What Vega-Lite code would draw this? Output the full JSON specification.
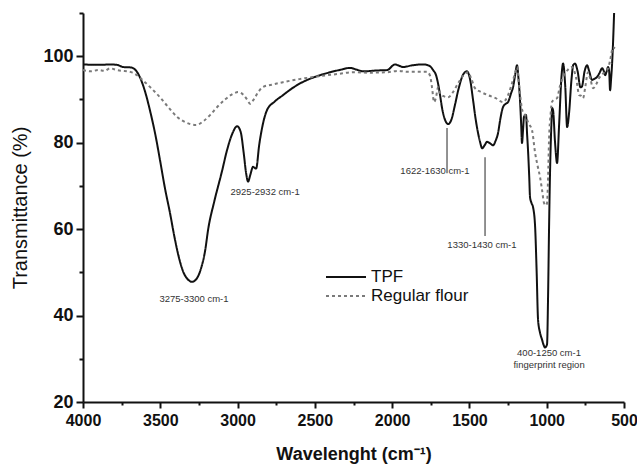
{
  "$schema": "https://vega.github.io/schema/vega-lite/v6.json",
  "width": 541,
  "height": 389,
  "autosize": "none",
  "padding": {"left": 83, "top": 13, "right": 13, "bottom": 63},
  "background": "white",
  "config": {
    "view": {"stroke": null},
    "font": "Liberation Sans",
    "axis": {
      "grid": false,
      "domainColor": "#111111",
      "domainWidth": 2,
      "tickColor": "#111111",
      "tickWidth": 2,
      "labelColor": "#111111",
      "labelFont": "Liberation Sans",
      "labelFontWeight": "bold",
      "titleColor": "#111111",
      "titleFont": "Liberation Sans"
    }
  },
  "datasets": {
    "spectra": [
      {"wavenumber": 4000, "transmittance": 98.1, "sample": "TPF"},
      {"wavenumber": 3900, "transmittance": 98.0, "sample": "TPF"},
      {"wavenumber": 3820, "transmittance": 98.1, "sample": "TPF"},
      {"wavenumber": 3780, "transmittance": 98.0, "sample": "TPF"},
      {"wavenumber": 3740, "transmittance": 97.5, "sample": "TPF"},
      {"wavenumber": 3690, "transmittance": 97.4, "sample": "TPF"},
      {"wavenumber": 3660, "transmittance": 96.8, "sample": "TPF"},
      {"wavenumber": 3630, "transmittance": 95.0, "sample": "TPF"},
      {"wavenumber": 3600, "transmittance": 92.0, "sample": "TPF"},
      {"wavenumber": 3567, "transmittance": 87.5, "sample": "TPF"},
      {"wavenumber": 3530, "transmittance": 81.5, "sample": "TPF"},
      {"wavenumber": 3502, "transmittance": 76.0, "sample": "TPF"},
      {"wavenumber": 3470, "transmittance": 69.5, "sample": "TPF"},
      {"wavenumber": 3437, "transmittance": 63.7, "sample": "TPF"},
      {"wavenumber": 3410, "transmittance": 58.5, "sample": "TPF"},
      {"wavenumber": 3380, "transmittance": 53.5, "sample": "TPF"},
      {"wavenumber": 3350, "transmittance": 50.0, "sample": "TPF"},
      {"wavenumber": 3320, "transmittance": 48.3, "sample": "TPF"},
      {"wavenumber": 3295, "transmittance": 47.8, "sample": "TPF"},
      {"wavenumber": 3270, "transmittance": 48.3, "sample": "TPF"},
      {"wavenumber": 3240, "transmittance": 50.5, "sample": "TPF"},
      {"wavenumber": 3210, "transmittance": 55.0, "sample": "TPF"},
      {"wavenumber": 3190, "transmittance": 60.0, "sample": "TPF"},
      {"wavenumber": 3150, "transmittance": 66.5, "sample": "TPF"},
      {"wavenumber": 3100, "transmittance": 73.5, "sample": "TPF"},
      {"wavenumber": 3068, "transmittance": 78.3, "sample": "TPF"},
      {"wavenumber": 3035, "transmittance": 82.0, "sample": "TPF"},
      {"wavenumber": 3003, "transmittance": 83.8, "sample": "TPF"},
      {"wavenumber": 2980, "transmittance": 82.5, "sample": "TPF"},
      {"wavenumber": 2960, "transmittance": 77.5, "sample": "TPF"},
      {"wavenumber": 2945, "transmittance": 73.0, "sample": "TPF"},
      {"wavenumber": 2932, "transmittance": 71.0, "sample": "TPF"},
      {"wavenumber": 2918, "transmittance": 72.5, "sample": "TPF"},
      {"wavenumber": 2900, "transmittance": 74.4, "sample": "TPF"},
      {"wavenumber": 2880, "transmittance": 74.0, "sample": "TPF"},
      {"wavenumber": 2860, "transmittance": 79.5, "sample": "TPF"},
      {"wavenumber": 2835, "transmittance": 84.5, "sample": "TPF"},
      {"wavenumber": 2810, "transmittance": 87.5, "sample": "TPF"},
      {"wavenumber": 2760, "transmittance": 89.5, "sample": "TPF"},
      {"wavenumber": 2706, "transmittance": 91.0, "sample": "TPF"},
      {"wavenumber": 2650, "transmittance": 92.5, "sample": "TPF"},
      {"wavenumber": 2596, "transmittance": 93.7, "sample": "TPF"},
      {"wavenumber": 2530, "transmittance": 94.8, "sample": "TPF"},
      {"wavenumber": 2467, "transmittance": 95.6, "sample": "TPF"},
      {"wavenumber": 2400, "transmittance": 96.3, "sample": "TPF"},
      {"wavenumber": 2330, "transmittance": 96.9, "sample": "TPF"},
      {"wavenumber": 2273, "transmittance": 97.3, "sample": "TPF"},
      {"wavenumber": 2230, "transmittance": 96.9, "sample": "TPF"},
      {"wavenumber": 2188, "transmittance": 96.5, "sample": "TPF"},
      {"wavenumber": 2100, "transmittance": 96.7, "sample": "TPF"},
      {"wavenumber": 2033, "transmittance": 96.8, "sample": "TPF"},
      {"wavenumber": 1981, "transmittance": 98.1, "sample": "TPF"},
      {"wavenumber": 1955, "transmittance": 97.8, "sample": "TPF"},
      {"wavenumber": 1929, "transmittance": 97.5, "sample": "TPF"},
      {"wavenumber": 1870, "transmittance": 97.9, "sample": "TPF"},
      {"wavenumber": 1800, "transmittance": 98.1, "sample": "TPF"},
      {"wavenumber": 1760, "transmittance": 97.8, "sample": "TPF"},
      {"wavenumber": 1735, "transmittance": 96.8, "sample": "TPF"},
      {"wavenumber": 1715, "transmittance": 95.5, "sample": "TPF"},
      {"wavenumber": 1703, "transmittance": 93.7, "sample": "TPF"},
      {"wavenumber": 1690, "transmittance": 91.0, "sample": "TPF"},
      {"wavenumber": 1677, "transmittance": 88.0, "sample": "TPF"},
      {"wavenumber": 1660, "transmittance": 85.5, "sample": "TPF"},
      {"wavenumber": 1638, "transmittance": 84.3, "sample": "TPF"},
      {"wavenumber": 1615, "transmittance": 85.5, "sample": "TPF"},
      {"wavenumber": 1595, "transmittance": 88.5, "sample": "TPF"},
      {"wavenumber": 1570, "transmittance": 92.5, "sample": "TPF"},
      {"wavenumber": 1540, "transmittance": 95.8, "sample": "TPF"},
      {"wavenumber": 1516, "transmittance": 96.5, "sample": "TPF"},
      {"wavenumber": 1495, "transmittance": 94.5, "sample": "TPF"},
      {"wavenumber": 1477, "transmittance": 90.0, "sample": "TPF"},
      {"wavenumber": 1460, "transmittance": 85.5, "sample": "TPF"},
      {"wavenumber": 1444, "transmittance": 82.2, "sample": "TPF"},
      {"wavenumber": 1430, "transmittance": 80.0, "sample": "TPF"},
      {"wavenumber": 1418, "transmittance": 78.7, "sample": "TPF"},
      {"wavenumber": 1400, "transmittance": 79.5, "sample": "TPF"},
      {"wavenumber": 1386, "transmittance": 80.2, "sample": "TPF"},
      {"wavenumber": 1365, "transmittance": 79.8, "sample": "TPF"},
      {"wavenumber": 1347, "transmittance": 79.4, "sample": "TPF"},
      {"wavenumber": 1330, "transmittance": 80.5, "sample": "TPF"},
      {"wavenumber": 1315, "transmittance": 82.2, "sample": "TPF"},
      {"wavenumber": 1300, "transmittance": 85.5, "sample": "TPF"},
      {"wavenumber": 1283, "transmittance": 88.2, "sample": "TPF"},
      {"wavenumber": 1265, "transmittance": 89.0, "sample": "TPF"},
      {"wavenumber": 1250, "transmittance": 89.4, "sample": "TPF"},
      {"wavenumber": 1230, "transmittance": 91.5, "sample": "TPF"},
      {"wavenumber": 1218, "transmittance": 92.8, "sample": "TPF"},
      {"wavenumber": 1205, "transmittance": 95.5, "sample": "TPF"},
      {"wavenumber": 1192, "transmittance": 97.9, "sample": "TPF"},
      {"wavenumber": 1183, "transmittance": 95.0, "sample": "TPF"},
      {"wavenumber": 1173, "transmittance": 90.0, "sample": "TPF"},
      {"wavenumber": 1165, "transmittance": 84.0, "sample": "TPF"},
      {"wavenumber": 1160, "transmittance": 79.9, "sample": "TPF"},
      {"wavenumber": 1153, "transmittance": 83.0, "sample": "TPF"},
      {"wavenumber": 1147, "transmittance": 86.0, "sample": "TPF"},
      {"wavenumber": 1134, "transmittance": 86.4, "sample": "TPF"},
      {"wavenumber": 1127, "transmittance": 82.0, "sample": "TPF"},
      {"wavenumber": 1121, "transmittance": 78.3, "sample": "TPF"},
      {"wavenumber": 1113, "transmittance": 72.0, "sample": "TPF"},
      {"wavenumber": 1108, "transmittance": 67.4, "sample": "TPF"},
      {"wavenumber": 1098, "transmittance": 66.0, "sample": "TPF"},
      {"wavenumber": 1088, "transmittance": 65.0, "sample": "TPF"},
      {"wavenumber": 1075, "transmittance": 60.5, "sample": "TPF"},
      {"wavenumber": 1065, "transmittance": 50.0, "sample": "TPF"},
      {"wavenumber": 1056, "transmittance": 39.0, "sample": "TPF"},
      {"wavenumber": 1043, "transmittance": 36.0, "sample": "TPF"},
      {"wavenumber": 1030, "transmittance": 34.4, "sample": "TPF"},
      {"wavenumber": 1020, "transmittance": 33.2, "sample": "TPF"},
      {"wavenumber": 1011, "transmittance": 32.6, "sample": "TPF"},
      {"wavenumber": 998, "transmittance": 33.3, "sample": "TPF"},
      {"wavenumber": 991, "transmittance": 45.0, "sample": "TPF"},
      {"wavenumber": 985, "transmittance": 60.0, "sample": "TPF"},
      {"wavenumber": 978, "transmittance": 74.0, "sample": "TPF"},
      {"wavenumber": 970, "transmittance": 84.0, "sample": "TPF"},
      {"wavenumber": 965, "transmittance": 88.0, "sample": "TPF"},
      {"wavenumber": 959, "transmittance": 87.5, "sample": "TPF"},
      {"wavenumber": 946, "transmittance": 80.0, "sample": "TPF"},
      {"wavenumber": 933, "transmittance": 75.3, "sample": "TPF"},
      {"wavenumber": 920, "transmittance": 84.0, "sample": "TPF"},
      {"wavenumber": 905, "transmittance": 95.0, "sample": "TPF"},
      {"wavenumber": 894, "transmittance": 98.3, "sample": "TPF"},
      {"wavenumber": 880, "transmittance": 93.0, "sample": "TPF"},
      {"wavenumber": 868, "transmittance": 83.6, "sample": "TPF"},
      {"wavenumber": 855, "transmittance": 87.0, "sample": "TPF"},
      {"wavenumber": 840, "transmittance": 94.5, "sample": "TPF"},
      {"wavenumber": 828, "transmittance": 98.0, "sample": "TPF"},
      {"wavenumber": 817, "transmittance": 98.3, "sample": "TPF"},
      {"wavenumber": 800, "transmittance": 96.5, "sample": "TPF"},
      {"wavenumber": 782, "transmittance": 92.8, "sample": "TPF"},
      {"wavenumber": 772, "transmittance": 93.0, "sample": "TPF"},
      {"wavenumber": 755, "transmittance": 96.5, "sample": "TPF"},
      {"wavenumber": 739, "transmittance": 97.9, "sample": "TPF"},
      {"wavenumber": 725, "transmittance": 96.5, "sample": "TPF"},
      {"wavenumber": 707, "transmittance": 94.5, "sample": "TPF"},
      {"wavenumber": 690, "transmittance": 94.8, "sample": "TPF"},
      {"wavenumber": 674, "transmittance": 95.2, "sample": "TPF"},
      {"wavenumber": 660, "transmittance": 96.0, "sample": "TPF"},
      {"wavenumber": 641, "transmittance": 97.2, "sample": "TPF"},
      {"wavenumber": 630, "transmittance": 96.5, "sample": "TPF"},
      {"wavenumber": 622, "transmittance": 95.6, "sample": "TPF"},
      {"wavenumber": 612, "transmittance": 96.5, "sample": "TPF"},
      {"wavenumber": 603, "transmittance": 97.5, "sample": "TPF"},
      {"wavenumber": 596, "transmittance": 96.5, "sample": "TPF"},
      {"wavenumber": 590, "transmittance": 92.1, "sample": "TPF"},
      {"wavenumber": 583, "transmittance": 95.0, "sample": "TPF"},
      {"wavenumber": 577, "transmittance": 98.3, "sample": "TPF"},
      {"wavenumber": 571, "transmittance": 103.0, "sample": "TPF"},
      {"wavenumber": 564, "transmittance": 110.0, "sample": "TPF"},

      {"wavenumber": 4000, "transmittance": 96.8, "sample": "Regular flour"},
      {"wavenumber": 3950, "transmittance": 96.5, "sample": "Regular flour"},
      {"wavenumber": 3900, "transmittance": 96.8, "sample": "Regular flour"},
      {"wavenumber": 3860, "transmittance": 96.6, "sample": "Regular flour"},
      {"wavenumber": 3825, "transmittance": 97.2, "sample": "Regular flour"},
      {"wavenumber": 3780, "transmittance": 96.8, "sample": "Regular flour"},
      {"wavenumber": 3740, "transmittance": 96.6, "sample": "Regular flour"},
      {"wavenumber": 3715, "transmittance": 96.5, "sample": "Regular flour"},
      {"wavenumber": 3680, "transmittance": 96.2, "sample": "Regular flour"},
      {"wavenumber": 3651, "transmittance": 95.6, "sample": "Regular flour"},
      {"wavenumber": 3600, "transmittance": 94.0, "sample": "Regular flour"},
      {"wavenumber": 3550, "transmittance": 92.3, "sample": "Regular flour"},
      {"wavenumber": 3502, "transmittance": 90.5, "sample": "Regular flour"},
      {"wavenumber": 3450, "transmittance": 88.3, "sample": "Regular flour"},
      {"wavenumber": 3392, "transmittance": 86.0, "sample": "Regular flour"},
      {"wavenumber": 3330, "transmittance": 84.6, "sample": "Regular flour"},
      {"wavenumber": 3269, "transmittance": 84.1, "sample": "Regular flour"},
      {"wavenumber": 3220, "transmittance": 85.0, "sample": "Regular flour"},
      {"wavenumber": 3175, "transmittance": 86.5, "sample": "Regular flour"},
      {"wavenumber": 3133, "transmittance": 88.2, "sample": "Regular flour"},
      {"wavenumber": 3080, "transmittance": 90.0, "sample": "Regular flour"},
      {"wavenumber": 3030, "transmittance": 91.3, "sample": "Regular flour"},
      {"wavenumber": 2996, "transmittance": 91.7, "sample": "Regular flour"},
      {"wavenumber": 2960, "transmittance": 91.0, "sample": "Regular flour"},
      {"wavenumber": 2935, "transmittance": 89.8, "sample": "Regular flour"},
      {"wavenumber": 2919, "transmittance": 89.0, "sample": "Regular flour"},
      {"wavenumber": 2895, "transmittance": 90.0, "sample": "Regular flour"},
      {"wavenumber": 2870, "transmittance": 91.5, "sample": "Regular flour"},
      {"wavenumber": 2835, "transmittance": 92.9, "sample": "Regular flour"},
      {"wavenumber": 2780, "transmittance": 93.4, "sample": "Regular flour"},
      {"wavenumber": 2706, "transmittance": 94.0, "sample": "Regular flour"},
      {"wavenumber": 2600, "transmittance": 94.7, "sample": "Regular flour"},
      {"wavenumber": 2467, "transmittance": 95.4, "sample": "Regular flour"},
      {"wavenumber": 2350, "transmittance": 95.9, "sample": "Regular flour"},
      {"wavenumber": 2253, "transmittance": 96.3, "sample": "Regular flour"},
      {"wavenumber": 2150, "transmittance": 96.2, "sample": "Regular flour"},
      {"wavenumber": 2033, "transmittance": 96.3, "sample": "Regular flour"},
      {"wavenumber": 1960, "transmittance": 96.6, "sample": "Regular flour"},
      {"wavenumber": 1904, "transmittance": 96.4, "sample": "Regular flour"},
      {"wavenumber": 1830, "transmittance": 96.4, "sample": "Regular flour"},
      {"wavenumber": 1774, "transmittance": 96.4, "sample": "Regular flour"},
      {"wavenumber": 1755, "transmittance": 95.5, "sample": "Regular flour"},
      {"wavenumber": 1742, "transmittance": 92.8, "sample": "Regular flour"},
      {"wavenumber": 1729, "transmittance": 89.4, "sample": "Regular flour"},
      {"wavenumber": 1716, "transmittance": 90.5, "sample": "Regular flour"},
      {"wavenumber": 1703, "transmittance": 92.8, "sample": "Regular flour"},
      {"wavenumber": 1690, "transmittance": 91.5, "sample": "Regular flour"},
      {"wavenumber": 1670, "transmittance": 90.8, "sample": "Regular flour"},
      {"wavenumber": 1638, "transmittance": 90.5, "sample": "Regular flour"},
      {"wavenumber": 1610, "transmittance": 91.5, "sample": "Regular flour"},
      {"wavenumber": 1574, "transmittance": 93.7, "sample": "Regular flour"},
      {"wavenumber": 1540, "transmittance": 95.5, "sample": "Regular flour"},
      {"wavenumber": 1509, "transmittance": 96.3, "sample": "Regular flour"},
      {"wavenumber": 1490, "transmittance": 95.0, "sample": "Regular flour"},
      {"wavenumber": 1464, "transmittance": 92.6, "sample": "Regular flour"},
      {"wavenumber": 1430, "transmittance": 91.8, "sample": "Regular flour"},
      {"wavenumber": 1380, "transmittance": 91.0, "sample": "Regular flour"},
      {"wavenumber": 1330, "transmittance": 90.3, "sample": "Regular flour"},
      {"wavenumber": 1283, "transmittance": 89.4, "sample": "Regular flour"},
      {"wavenumber": 1250, "transmittance": 91.0, "sample": "Regular flour"},
      {"wavenumber": 1225, "transmittance": 93.7, "sample": "Regular flour"},
      {"wavenumber": 1205, "transmittance": 96.0, "sample": "Regular flour"},
      {"wavenumber": 1192, "transmittance": 97.5, "sample": "Regular flour"},
      {"wavenumber": 1175, "transmittance": 92.0, "sample": "Regular flour"},
      {"wavenumber": 1158, "transmittance": 87.5, "sample": "Regular flour"},
      {"wavenumber": 1140, "transmittance": 86.4, "sample": "Regular flour"},
      {"wavenumber": 1118, "transmittance": 84.5, "sample": "Regular flour"},
      {"wavenumber": 1095, "transmittance": 82.9, "sample": "Regular flour"},
      {"wavenumber": 1075, "transmittance": 77.6, "sample": "Regular flour"},
      {"wavenumber": 1058, "transmittance": 74.5, "sample": "Regular flour"},
      {"wavenumber": 1043, "transmittance": 72.0, "sample": "Regular flour"},
      {"wavenumber": 1030, "transmittance": 69.0, "sample": "Regular flour"},
      {"wavenumber": 1017, "transmittance": 66.0, "sample": "Regular flour"},
      {"wavenumber": 1005, "transmittance": 65.5, "sample": "Regular flour"},
      {"wavenumber": 998, "transmittance": 66.0, "sample": "Regular flour"},
      {"wavenumber": 991, "transmittance": 72.0, "sample": "Regular flour"},
      {"wavenumber": 985, "transmittance": 80.6, "sample": "Regular flour"},
      {"wavenumber": 975, "transmittance": 86.5, "sample": "Regular flour"},
      {"wavenumber": 966, "transmittance": 89.4, "sample": "Regular flour"},
      {"wavenumber": 950, "transmittance": 90.0, "sample": "Regular flour"},
      {"wavenumber": 933, "transmittance": 90.3, "sample": "Regular flour"},
      {"wavenumber": 915, "transmittance": 93.0, "sample": "Regular flour"},
      {"wavenumber": 894, "transmittance": 95.2, "sample": "Regular flour"},
      {"wavenumber": 865, "transmittance": 96.8, "sample": "Regular flour"},
      {"wavenumber": 836, "transmittance": 97.5, "sample": "Regular flour"},
      {"wavenumber": 810, "transmittance": 95.0, "sample": "Regular flour"},
      {"wavenumber": 790, "transmittance": 91.0, "sample": "Regular flour"},
      {"wavenumber": 775, "transmittance": 90.8, "sample": "Regular flour"},
      {"wavenumber": 765, "transmittance": 90.3, "sample": "Regular flour"},
      {"wavenumber": 750, "transmittance": 93.0, "sample": "Regular flour"},
      {"wavenumber": 733, "transmittance": 96.3, "sample": "Regular flour"},
      {"wavenumber": 716, "transmittance": 94.5, "sample": "Regular flour"},
      {"wavenumber": 700, "transmittance": 92.6, "sample": "Regular flour"},
      {"wavenumber": 680, "transmittance": 93.5, "sample": "Regular flour"},
      {"wavenumber": 660, "transmittance": 95.0, "sample": "Regular flour"},
      {"wavenumber": 635, "transmittance": 96.0, "sample": "Regular flour"},
      {"wavenumber": 620, "transmittance": 96.5, "sample": "Regular flour"},
      {"wavenumber": 603, "transmittance": 97.2, "sample": "Regular flour"},
      {"wavenumber": 590, "transmittance": 99.0, "sample": "Regular flour"},
      {"wavenumber": 571, "transmittance": 102.0, "sample": "Regular flour"},
      {"wavenumber": 558, "transmittance": 101.8, "sample": "Regular flour"}
    ],
    "leaders": [
      {"wavenumber": 1645, "top": 83.4, "bottom": 72.9},
      {"wavenumber": 1399, "top": 76.6, "bottom": 58.4}
    ],
    "bands": [
      {"wavenumber": 3282, "transmittance": 43.9, "label": "3275-3300 cm-1"},
      {"wavenumber": 2822, "transmittance": 68.6, "label": "2925-2932 cm-1"},
      {"wavenumber": 1723, "transmittance": 73.4, "label": "1622-1630 cm-1"},
      {"wavenumber": 1419, "transmittance": 56.3, "label": "1330-1430 cm-1"},
      {"wavenumber": 985, "transmittance": 31.3, "label": "400-1250 cm-1"},
      {"wavenumber": 985, "transmittance": 28.6, "label": "fingerprint  region"}
    ]
  },
  "encoding": {
    "x": {
      "field": "wavenumber",
      "type": "quantitative",
      "scale": {"domain": [500, 4000], "reverse": true, "nice": false},
      "axis": {
        "title": "Wavelenght (cm⁻¹)",
        "titleFontSize": 18,
        "titleFontWeight": "bold",
        "titlePadding": 17,
        "values": [500, 750, 1000, 1250, 1500, 1750, 2000, 2250, 2500, 2750, 3000, 3250, 3500, 3750, 4000],
        "format": "d",
        "labelExpr": "datum.value % 500 === 0 ? datum.label : ''",
        "labelFontSize": 16,
        "labelFlush": false,
        "labelOverlap": false,
        "labelPadding": 4,
        "tickSize": {"condition": {"test": "datum.value % 500 === 0", "value": 6}, "value": 3}
      }
    },
    "y": {
      "field": "transmittance",
      "type": "quantitative",
      "scale": {"domain": [20, 110], "nice": false, "zero": false},
      "axis": {
        "title": "Transmittance (%)",
        "titleFontSize": 20,
        "titleFontWeight": "normal",
        "titlePadding": 12,
        "values": [20, 30, 40, 50, 60, 70, 80, 90, 100, 110],
        "format": "d",
        "labelExpr": "datum.value % 20 === 0 && datum.value <= 100 ? datum.label : ''",
        "labelFontSize": 18,
        "labelFlush": false,
        "labelOverlap": false,
        "labelPadding": 3,
        "tickSize": {"condition": {"test": "datum.value % 20 === 0", "value": 7}, "value": 4}
      }
    }
  },
  "layer": [
    {
      "data": {"name": "spectra"},
      "mark": {"type": "line", "strokeWidth": 2, "interpolate": "monotone", "clip": true},
      "encoding": {
        "order": {"field": "wavenumber", "sort": "descending"},
        "color": {
          "field": "sample",
          "type": "nominal",
          "scale": {"domain": ["TPF", "Regular flour"], "range": ["#111111", "#7a7a7a"]},
          "legend": {
            "title": null,
            "orient": "none",
            "legendX": 252,
            "legendY": 253,
            "symbolType": "M-2,0L2,0",
            "symbolSize": 400,
            "symbolStrokeWidth": 2,
            "labelFontSize": 17,
            "labelFont": "Liberation Sans",
            "labelColor": "#111111",
            "labelOffset": 14,
            "rowPadding": 0,
            "padding": 0
          }
        },
        "strokeDash": {
          "field": "sample",
          "type": "nominal",
          "scale": {"domain": ["TPF", "Regular flour"], "range": [[1, 0], [3, 3]]},
          "legend": null
        }
      }
    },
    {
      "data": {"name": "leaders"},
      "mark": {"type": "rule", "color": "#6e6e6e", "strokeWidth": 1.5},
      "encoding": {
        "y": {"field": "top", "type": "quantitative"},
        "y2": {"field": "bottom"}
      }
    },
    {
      "data": {"name": "bands"},
      "mark": {"type": "text", "fontSize": 9.5, "color": "#333333", "font": "Liberation Sans", "align": "center", "baseline": "middle"},
      "encoding": {
        "text": {"field": "label", "type": "nominal"}
      }
    }
  ]
}
